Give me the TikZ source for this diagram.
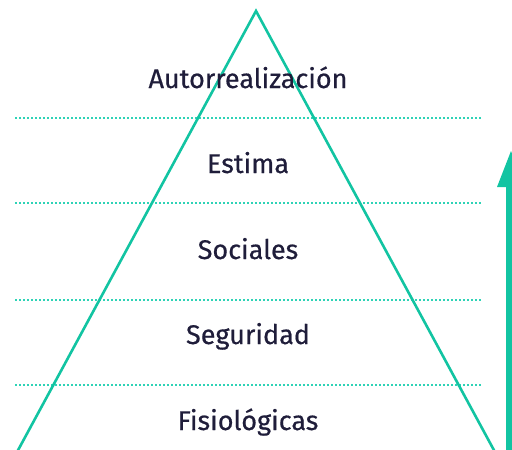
\documentclass[tikz,border=0pt]{standalone}
\usepackage{fontspec}
\setmainfont{Fira Sans}
\newfontfamily\lblfont{Fira Sans}[FakeBold=0.5]
\definecolor{teal1}{HTML}{12C4A2}
\definecolor{teal2}{HTML}{2ED3B6}
\definecolor{navy}{HTML}{1F1D3A}
\tikzset{
  level/.style={text=navy, font=\lblfont\fontsize{27}{32}\selectfont, anchor=base},
  sep/.style={teal2, line width=1.6pt, dash pattern=on 1.6pt off 2.4pt},
  pyr/.style={teal1, line width=2.6pt, line join=miter},
}
\begin{document}
\begin{tikzpicture}[x=1pt,y=-1pt]
\useasboundingbox (0,0) rectangle (512,450);
\clip (0,0) rectangle (512,450);
% separators
\draw[sep] (15,118) -- (481,118);
\draw[sep] (15,203) -- (481,203);
\draw[sep] (15,300) -- (481,300);
\draw[sep] (15,385) -- (481,385);
% pyramid
\draw[pyr] (10,465) -- (256,11) -- (502,465);
% arrow
\fill[teal1] (506,470) -- (506,187) -- (497,187) -- (511,151) -- (525,187) -- (516,187) -- (516,470) -- cycle;
% labels
\node[level] (l5) at (248,88) {Autorrealización};
\node[level] (l4) at (248,173) {Estima};
\node[level] (l3) at (248,259) {Sociales};
\node[level] (l2) at (248,344) {Seguridad};
\node[level] (l1) at (248,430) {Fisiológicas};
\end{tikzpicture}
\end{document}
